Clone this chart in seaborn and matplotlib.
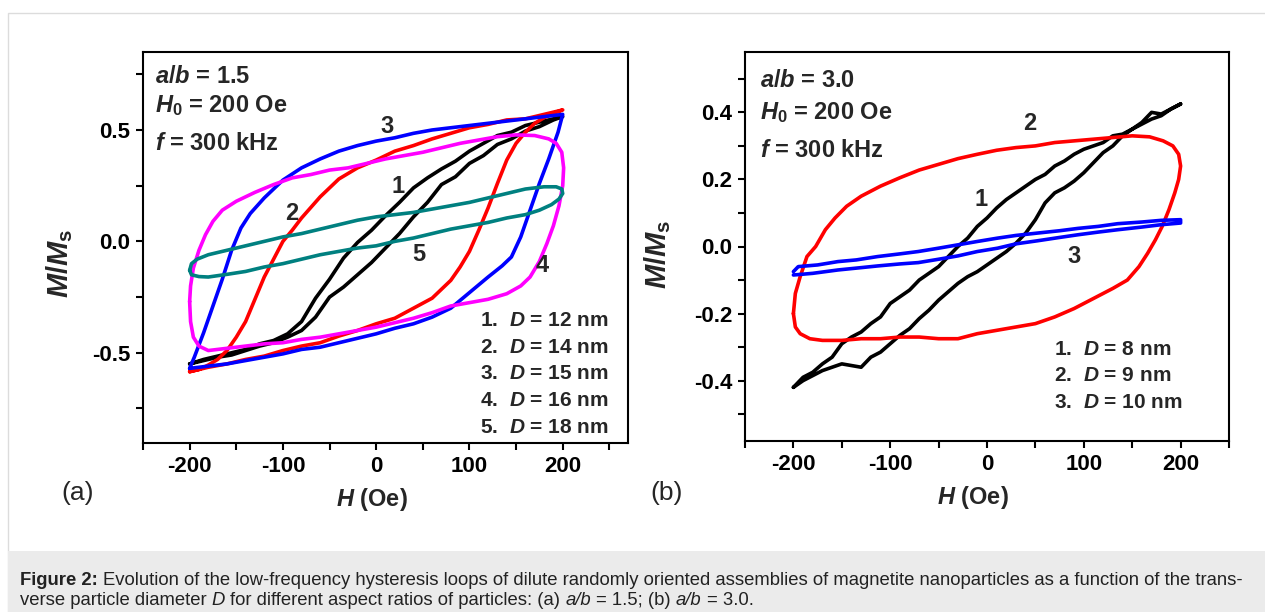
import matplotlib
matplotlib.use("Agg")
import matplotlib.pyplot as plt
import pandas as pd
import seaborn as sns
from matplotlib.patches import Rectangle
from matplotlib.ticker import FixedLocator, FormatStrFormatter

# ---------------- panel (a): a/b = 1.5 ----------------
a_ids = ["1", "2", "3", "4", "5"]
a_sizes = ["12", "14", "15", "16", "18"]
a_colors = ["#000000", "#ff0000", "#0000ff", "#ff00ff", "#008080"]

# D = 12 nm (lower branch then upper branch)
a1_H = [-200, -185, -170, -155, -140, -125, -110, -95, -80, -65, -50, -35, -20, -5, 10, 25, 40, 55, 70, 85,
        100, 115, 130, 145, 160, 175, 190, 200,
        190, 175, 160, 145, 130, 115, 100, 85, 70, 55, 40, 25, 10, -5, -20, -35, -50, -65, -80, -95,
        -110, -125, -140, -155, -170, -185, -200]
a1_M = [-0.55, -0.535, -0.52, -0.51, -0.49, -0.47, -0.455, -0.43, -0.40, -0.34, -0.25, -0.205, -0.15, -0.095,
        -0.03, 0.035, 0.11, 0.175, 0.255, 0.29, 0.35, 0.385, 0.435, 0.46, 0.495, 0.515, 0.545, 0.56,
        0.55, 0.535, 0.52, 0.49, 0.475, 0.44, 0.405, 0.36, 0.325, 0.285, 0.24, 0.175, 0.115, 0.05, -0.005,
        -0.075, -0.17, -0.255, -0.36, -0.415, -0.445, -0.46, -0.485, -0.50, -0.515, -0.53, -0.55]

# D = 14 nm
a2_H = [-200, -180, -160, -140, -120, -100, -80, -60, -40, -20, 0, 20, 40, 60, 80, 90, 100, 110, 120, 130,
        140, 150, 160, 170, 180, 190, 200,
        180, 160, 140, 120, 100, 80, 60, 40, 20, 0, -20, -40, -60, -80, -90, -100, -110, -120, -130, -140,
        -150, -160, -170, -180, -190, -200]
a2_M = [-0.585, -0.565, -0.55, -0.53, -0.515, -0.49, -0.47, -0.455, -0.425, -0.40, -0.37, -0.345, -0.30,
        -0.255, -0.175, -0.115, -0.045, 0.05, 0.15, 0.26, 0.365, 0.44, 0.49, 0.53, 0.555, 0.575, 0.59,
        0.57, 0.55, 0.545, 0.525, 0.51, 0.485, 0.46, 0.43, 0.405, 0.365, 0.33, 0.28, 0.20, 0.105, 0.05,
        0.0, -0.08, -0.16, -0.26, -0.36, -0.43, -0.49, -0.53, -0.555, -0.575, -0.585]

# D = 15 nm
a3_H = [-200, -180, -160, -140, -120, -100, -80, -60, -40, -20, 0, 20, 40, 60, 80, 100, 120, 135, 145, 155,
        165, 175, 185, 195, 200,
        180, 160, 140, 120, 100, 80, 60, 40, 20, 0, -20, -40, -60, -80, -100, -120, -135, -145, -155, -165,
        -175, -185, -195, -200]
a3_M = [-0.57, -0.56, -0.55, -0.535, -0.52, -0.505, -0.485, -0.475, -0.455, -0.435, -0.415, -0.39, -0.37,
        -0.34, -0.30, -0.23, -0.16, -0.11, -0.07, 0.02, 0.14, 0.26, 0.37, 0.49, 0.57,
        0.56, 0.55, 0.54, 0.53, 0.52, 0.51, 0.50, 0.485, 0.465, 0.45, 0.43, 0.405, 0.37, 0.33, 0.275,
        0.195, 0.125, 0.06, -0.04, -0.17, -0.29, -0.41, -0.52, -0.57]

# D = 16 nm
a4_H = [-200, -199, -196, -190, -180, -160, -140, -120, -100, -80, -60, -40, -20, 0, 20, 40, 60, 80, 100,
        120, 140, 155, 165, 175, 183, 190, 196, 200, 201, 199, 193, 185, 170, 150, 130, 110, 90, 70, 50,
        30, 10, -10, -30, -50, -70, -90, -110, -130, -150, -165, -175, -183, -190, -196, -199, -200]
a4_M = [-0.27, -0.36, -0.43, -0.47, -0.49, -0.48, -0.47, -0.46, -0.455, -0.44, -0.43, -0.415, -0.40, -0.385,
        -0.365, -0.345, -0.32, -0.29, -0.275, -0.26, -0.235, -0.20, -0.16, -0.09, -0.01, 0.07, 0.16, 0.25,
        0.33, 0.40, 0.44, 0.46, 0.475, 0.478, 0.47, 0.455, 0.44, 0.42, 0.40, 0.385, 0.37, 0.35, 0.33, 0.32,
        0.30, 0.285, 0.255, 0.22, 0.18, 0.14, 0.09, 0.03, -0.04, -0.12, -0.20, -0.27]

# D = 18 nm
a5_H = [-200, -198, -190, -180, -160, -140, -120, -100, -80, -60, -40, -20, 0, 20, 40, 60, 80, 100, 120, 140,
        160, 175, 188, 196, 200, 199, 193, 180, 160, 140, 120, 100, 80, 60, 40, 20, 0, -20, -40, -60, -80,
        -100, -120, -140, -160, -180, -192, -198, -200]
a5_M = [-0.13, -0.15, -0.158, -0.16, -0.148, -0.135, -0.115, -0.10, -0.08, -0.06, -0.045, -0.03, -0.02, 0.0,
        0.015, 0.035, 0.055, 0.07, 0.085, 0.105, 0.12, 0.14, 0.165, 0.19, 0.215, 0.235, 0.245, 0.245, 0.235,
        0.215, 0.195, 0.175, 0.16, 0.145, 0.13, 0.12, 0.11, 0.095, 0.075, 0.055, 0.035, 0.02, 0.0, -0.02,
        -0.04, -0.06, -0.08, -0.10, -0.13]

# ---------------- panel (b): a/b = 3.0 ----------------
b_ids = ["1", "2", "3"]
b_sizes = ["8", "9", "10"]
b_colors = ["#000000", "#ff0000", "#0000ff"]

# D = 8 nm
b1_H = [-200, -190, -180, -170, -160, -150, -140, -130, -120, -110, -100, -90, -80, -70, -60, -50, -40, -30,
        -20, -10, 0, 10, 20, 30, 40, 50, 60, 70, 80, 90, 100, 110, 120, 130, 140, 150, 160, 170, 180, 190, 200,
        190, 180, 170, 160, 150, 140, 130, 120, 110, 100, 90, 80, 70, 60, 50, 40, 30, 20, 10, 0, -10, -20,
        -30, -40, -50, -60, -70, -80, -90, -100, -110, -120, -130, -140, -150, -160, -170, -180, -190, -200]
b1_M = [-0.42, -0.40, -0.385, -0.37, -0.36, -0.35, -0.355, -0.36, -0.33, -0.315, -0.29, -0.265, -0.245, -0.215,
        -0.19, -0.16, -0.135, -0.11, -0.09, -0.075, -0.055, -0.035, -0.015, 0.01, 0.04, 0.08, 0.13, 0.16, 0.175,
        0.195, 0.22, 0.25, 0.28, 0.30, 0.33, 0.35, 0.365, 0.38, 0.39, 0.41, 0.425,
        0.41, 0.395, 0.40, 0.37, 0.35, 0.335, 0.33, 0.31, 0.30, 0.29, 0.275, 0.255, 0.24, 0.215, 0.20, 0.18,
        0.16, 0.14, 0.115, 0.085, 0.06, 0.025, 0.0, -0.03, -0.06, -0.08, -0.10, -0.13, -0.15, -0.17, -0.21,
        -0.23, -0.255, -0.27, -0.29, -0.33, -0.35, -0.375, -0.39, -0.42]

# D = 9 nm
b2_H = [-200, -198, -193, -183, -170, -150, -130, -110, -90, -70, -50, -30, -10, 10, 30, 50, 70, 90, 110, 130,
        145, 157, 166, 174, 181, 188, 194, 198, 200, 198, 192, 182, 168, 150, 130, 110, 90, 70, 50, 30, 10,
        -10, -30, -50, -70, -90, -110, -130, -145, -157, -167, -177, -186, -193, -198, -200]
b2_M = [-0.20, -0.24, -0.26, -0.275, -0.28, -0.28, -0.275, -0.275, -0.27, -0.27, -0.275, -0.275, -0.26, -0.25,
        -0.24, -0.23, -0.21, -0.185, -0.155, -0.125, -0.10, -0.06, -0.02, 0.02, 0.06, 0.11, 0.16, 0.20, 0.24,
        0.275, 0.30, 0.315, 0.327, 0.33, 0.325, 0.32, 0.315, 0.31, 0.30, 0.295, 0.287, 0.275, 0.262, 0.245,
        0.228, 0.205, 0.18, 0.15, 0.12, 0.085, 0.05, 0.0, -0.03, -0.09, -0.14, -0.20]

# D = 10 nm
b3_H = [-200, -180, -154, -130, -113, -90, -71, -50, -30, -10, 11, 30, 52, 75, 94, 115, 135, 160, 180, 200,
        200, 180, 160, 135, 115, 94, 75, 52, 30, 11, -10, -30, -50, -71, -90, -113, -135, -154, -175, -195, -200]
b3_M = [-0.085, -0.08, -0.07, -0.063, -0.058, -0.052, -0.048, -0.038, -0.028, -0.015, -0.005, 0.008, 0.017,
        0.027, 0.035, 0.043, 0.05, 0.058, 0.065, 0.07, 0.08, 0.078, 0.073, 0.068, 0.06, 0.054, 0.047, 0.04,
        0.033, 0.025, 0.015, 0.005, -0.005, -0.015, -0.022, -0.03, -0.04, -0.045, -0.055, -0.06, -0.075]


def loops_frame(ids, Hs, Ms):
    parts = []
    for i, H, M in zip(ids, Hs, Ms):
        parts.append(pd.DataFrame({"H": H, "M": M, "loop": i}))
    return pd.concat(parts, ignore_index=True)


df_a = loops_frame(a_ids, [a1_H, a2_H, a3_H, a4_H, a5_H], [a1_M, a2_M, a3_M, a4_M, a5_M])
df_b = loops_frame(b_ids, [b1_H, b2_H, b3_H], [b1_M, b2_M, b3_M])

sns.set_theme(style="ticks")
plt.rcParams["font.family"] = ["Liberation Sans", "DejaVu Sans"]
plt.rcParams["font.weight"] = "bold"
plt.rcParams["axes.unicode_minus"] = False
plt.rcParams["mathtext.fontset"] = "custom"
plt.rcParams["mathtext.it"] = "Liberation Sans:italic:bold"
plt.rcParams["mathtext.rm"] = "Liberation Sans:bold"
plt.rcParams["mathtext.bf"] = "Liberation Sans:bold"
plt.rcParams["axes.linewidth"] = 1.5

W, Hpx = 1265, 612
fig = plt.figure(figsize=(W / 100, Hpx / 100), dpi=100)
fig.patch.set_facecolor("white")

# page frame and caption band
fig.patches.append(Rectangle((8 / W, -0.05), 1.0, 1 - 13 / Hpx + 0.05, transform=fig.transFigure,
                             fill=False, edgecolor="#dcdcdc", linewidth=1.0))
fig.patches.append(Rectangle((8 / W, -0.05), 1.0, 1 - 551 / Hpx + 0.05, transform=fig.transFigure,
                             facecolor="#ebebeb", edgecolor="none"))

axA = fig.add_axes([143 / W, 1 - 443 / Hpx, 485 / W, 391 / Hpx])
axB = fig.add_axes([745 / W, 1 - 441 / Hpx, 484 / W, 389 / Hpx])

sns.lineplot(data=df_a, x="H", y="M", hue="loop", palette=dict(zip(a_ids, a_colors)),
             sort=False, estimator=None, legend=False, linewidth=2.6, ax=axA)
sns.lineplot(data=df_b, x="H", y="M", hue="loop", palette=dict(zip(b_ids, b_colors)),
             sort=False, estimator=None, legend=False, linewidth=2.6, ax=axB)

for ax in (axA, axB):
    for sp in ax.spines.values():
        sp.set_linewidth(1.5)
        sp.set_color("black")
    ax.tick_params(which="both", direction="out", top=False, right=False, length=5, width=1.5,
                   labelsize=16, pad=4, colors="black")
    ax.xaxis.set_major_locator(FixedLocator([-200, -100, 0, 100, 200]))
    ax.xaxis.set_minor_locator(FixedLocator([-250, -150, -50, 50, 150, 250]))
    ax.xaxis.set_major_formatter(FormatStrFormatter("%d"))
    ax.yaxis.set_major_formatter(FormatStrFormatter("%.1f"))
    ax.set_xlabel("$H$ (Oe)", fontsize=17, fontweight="bold")
    ax.set_ylabel("$M/M_\\mathrm{s}$", fontsize=21, fontweight="bold")
    ax.grid(False)

axA.set_xlim(-250, 270)
axA.set_ylim(-0.905, 0.85)
axA.yaxis.set_major_locator(FixedLocator([-0.5, 0.0, 0.5]))
axA.yaxis.set_minor_locator(FixedLocator([-0.75, -0.25, 0.25, 0.75]))

axB.set_xlim(-250, 250)
axB.set_ylim(-0.58, 0.58)
axB.yaxis.set_major_locator(FixedLocator([-0.4, -0.2, 0.0, 0.2, 0.4]))
axB.yaxis.set_minor_locator(FixedLocator([-0.5, -0.3, -0.1, 0.1, 0.3, 0.5]))

axA.xaxis.set_label_coords(0.472, -0.11)
axB.xaxis.set_label_coords(0.471, -0.11)
axA.yaxis.set_label_coords(-0.140, 0.46)
axB.yaxis.set_label_coords(-0.148, 0.48)

txt = dict(fontsize=17, fontweight="bold", va="center", ha="left")
axA.text(-237, 0.739, "$a/b$ = 1.5", **txt)
axA.text(-237, 0.610, "$H_0$ = 200 Oe", **txt)
axA.text(-237, 0.440, "$f$ = 300 kHz", **txt)
axB.text(-235, 0.495, "$a/b$ = 3.0", **txt)
axB.text(-235, 0.400, "$H_0$ = 200 Oe", **txt)
axB.text(-235, 0.287, "$f$ = 300 kHz", **txt)

leg = dict(fontsize=15, fontweight="bold", va="center", ha="left")
for i, s, yv in zip(a_ids, a_sizes, [-0.354, -0.475, -0.594, -0.715, -0.836]):
    axA.text(111, yv, f"{i}.  $D$ = {s} nm", **leg)
for i, s, yv in zip(b_ids, b_sizes, [-0.307, -0.386, -0.465]):
    axB.text(69, yv, f"{i}.  $D$ = {s} nm", **leg)

num = dict(fontsize=17, fontweight="bold", va="center", ha="center")
for lab, hx, my in [("3", 12, 0.515), ("1", 24, 0.246), ("2", -91, 0.127), ("5", 46, -0.06), ("4", 178, -0.11)]:
    axA.text(hx, my, lab, **num)
for lab, hx, my in [("1", -6, 0.14), ("2", 44, 0.366), ("3", 90, -0.03)]:
    axB.text(hx, my, lab, **num)

fig.text(78 / W, 1 - 493 / Hpx, "(a)", fontsize=19, fontweight="normal", ha="center", va="center")
fig.text(667 / W, 1 - 493 / Hpx, "(b)", fontsize=19, fontweight="normal", ha="center", va="center")

# caption
fig.canvas.draw()
rend = fig.canvas.get_renderer()
cap_family = ["Liberation Sans", "DejaVu Sans"]


def seg_adv(s, size, style, weight):
    t1 = fig.text(0, 0, s + "|", fontsize=size, style=style, fontweight=weight, family=cap_family)
    t2 = fig.text(0, 0, "|", fontsize=size, style=style, fontweight=weight, family=cap_family)
    w = t1.get_window_extent(rend).width - t2.get_window_extent(rend).width
    t1.remove()
    t2.remove()
    return w


line1 = [("Figure 2: ", "normal", "bold"),
         ("Evolution of the low-frequency hysteresis loops of dilute randomly oriented assemblies of magnetite "
          "nanoparticles as a function of the trans-", "normal", "normal")]
line2 = [("verse particle diameter ", "normal", "normal"), ("D", "italic", "normal"),
         (" for different aspect ratios of particles: (a) ", "normal", "normal"), ("a/b", "italic", "normal"),
         (" = 1.5; (b) ", "normal", "normal"), ("a/b", "italic", "normal"), (" = 3.0.", "normal", "normal")]

base = 12
total = sum(seg_adv(s, base, st, wt) for s, st, wt in line1)
cap_size = base * (1232 / total)


def draw_line(segs, x0, ybase):
    x = x0
    for s, st, wt in segs:
        lead = len(s) - len(s.lstrip(" "))
        if lead:
            x += seg_adv(" " * lead, cap_size, st, wt)
            s = s.lstrip(" ")
        fig.text(x / W, ybase, s, fontsize=cap_size, style=st, fontweight=wt, family=cap_family,
                 color="#222222", va="baseline", ha="left")
        x += seg_adv(s, cap_size, st, wt)


draw_line(line1, 20, 1 - 585 / Hpx)
draw_line(line2, 20, 1 - 605 / Hpx)

fig.savefig("out.png", dpi=100)
